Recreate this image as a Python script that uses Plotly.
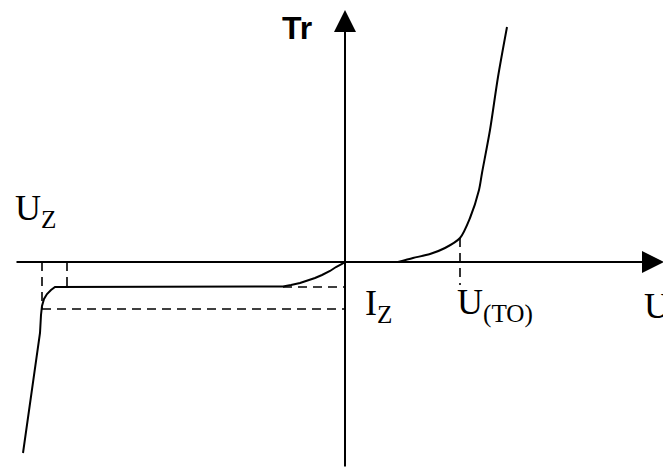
import plotly.graph_objects as go

# Zener diode I-V characteristic (schematic units: U horizontal, I vertical)

# forward branch
forward_u = [5.3, 6.8, 8.5, 10.0, 11.5, 12.5, 13.4, 13.7, 14.5, 15.3, 16.2]
forward_i = [0.0, 0.4, 0.8, 1.4, 2.4, 4.4, 7.2, 8.9, 13.2, 18.5, 23.5]

# reverse branch: leakage, flat region and breakdown
reverse_u = [0.0, -0.3, -0.9, -1.5, -2.3, -3.0, -3.9, -4.5, -5.4, -6.2,
             -29.0, -29.4, -29.8, -30.1, -30.3, -30.4, -30.5, -32.2]
reverse_i = [0.0, -0.2, -0.5, -0.9, -1.3, -1.6, -1.9, -2.1, -2.3, -2.45,
             -2.5, -2.8, -3.2, -3.7, -4.4, -5.3, -7.1, -19.1]

# characteristic points
u_z = -30.3        # Zener voltage
u_knee = -27.8     # start of breakdown knee
i_z = -4.7         # Zener current
i_flat = -2.5      # reverse leakage level
u_flat_end = -6.2
u_to = 11.5        # threshold voltage
i_to = 2.4
u_to_tick_end = -2.3

# axis extents
u_min, u_max = -33.0, 31.9
i_min, i_max = -20.6, 25.2

fig = go.Figure()

dash = dict(color="black", width=1.6, dash="9px,6px")

fig.add_trace(go.Scatter(x=forward_u, y=forward_i, mode="lines",
                         line=dict(color="black", width=2, shape="spline", smoothing=0.8)))
fig.add_trace(go.Scatter(x=reverse_u, y=reverse_i, mode="lines",
                         line=dict(color="black", width=2, shape="linear")))

# guide lines
fig.add_trace(go.Scatter(x=[u_z, 0.0], y=[i_z, i_z], mode="lines", line=dash))
fig.add_trace(go.Scatter(x=[u_z, u_z], y=[0.0, i_z], mode="lines", line=dash))
fig.add_trace(go.Scatter(x=[u_knee, u_knee], y=[0.0, i_flat], mode="lines", line=dash))
fig.add_trace(go.Scatter(x=[u_flat_end, 0.0], y=[i_flat, i_flat], mode="lines", line=dash))
fig.add_trace(go.Scatter(x=[u_to, u_to], y=[i_to, u_to_tick_end], mode="lines", line=dash))

# coordinate axes with arrowheads
for (x, y, ax, ay) in [(0.0, i_max, 0.0, i_min), (u_max, 0.0, u_min, 0.0)]:
    fig.add_annotation(x=x, y=y, ax=ax, ay=ay, xref="x", yref="y", axref="x", ayref="y",
                       showarrow=True, arrowhead=2, arrowsize=2.2, arrowwidth=2,
                       arrowcolor="black", text="", standoff=0, startstandoff=0)

serif = dict(family="Liberation Serif", size=36, color="black")
labels = [
    (-6.5, 23.45, "<b>Tr</b>", dict(family="Liberation Sans", size=32, color="black")),
    (-33.2, 5.15, "U<sub>Z</sub>", serif),
    (1.8, -4.35, "I<sub>Z</sub>", serif),
    (11.0, -4.3, "U<sub>(TO)</sub>", serif),
    (29.7, -4.35, "U", serif),
]
for x, y, t, f in labels:
    fig.add_annotation(x=x, y=y, xref="x", yref="y", text=t, showarrow=False,
                       xanchor="left", yanchor="middle", font=f)

fig.update_layout(
    width=663, height=468,
    margin=dict(l=0, r=0, t=0, b=0),
    paper_bgcolor="white", plot_bgcolor="white",
    showlegend=False,
    xaxis=dict(range=[-34.5, 31.8], visible=False, fixedrange=True),
    yaxis=dict(range=[-20.6, 26.2], visible=False, fixedrange=True),
)

fig.write_html("out.html")
